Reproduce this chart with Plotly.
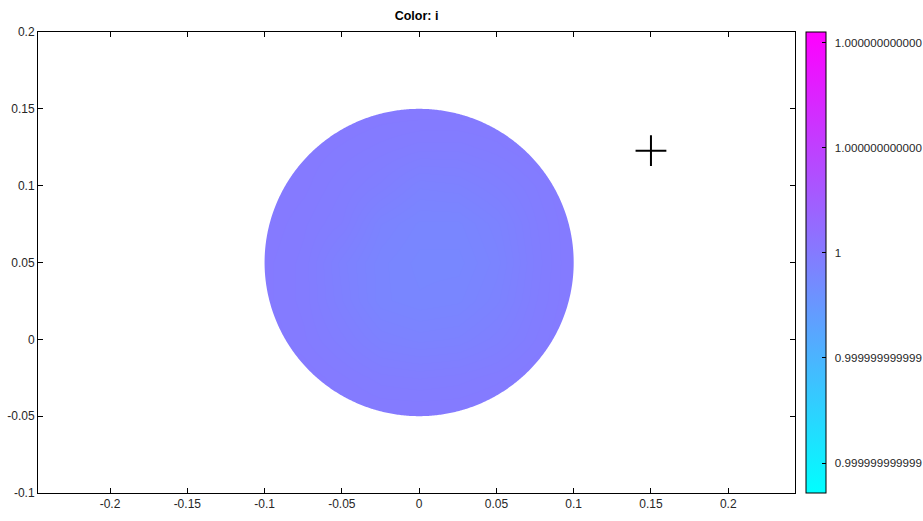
import numpy as np
import plotly.graph_objects as go

# ---- data ----
grid_x = [-0.1, -0.075, -0.05, -0.025, 0.0, 0.025, 0.05, 0.075, 0.1]
grid_y = [-0.05, -0.025, 0.0, 0.025, 0.05, 0.075, 0.1, 0.125, 0.15]
# colour value relative to 1, in units of 1e-13
field = [
    [0.02, 0.02, 0.01, 0.00, 0.00, 0.00, 0.01, 0.02, 0.02],
    [0.02, 0.01, -0.02, -0.05, -0.06, -0.05, -0.03, 0.00, 0.02],
    [0.01, -0.02, -0.07, -0.13, -0.15, -0.14, -0.10, -0.04, 0.01],
    [0.00, -0.03, -0.11, -0.19, -0.21, -0.20, -0.15, -0.06, 0.00],
    [0.00, -0.03, -0.12, -0.19, -0.22, -0.22, -0.17, -0.07, 0.00],
    [0.01, -0.02, -0.06, -0.16, -0.20, -0.20, -0.15, -0.06, 0.00],
    [0.02, 0.00, -0.04, -0.08, -0.14, -0.13, -0.09, -0.04, 0.01],
    [0.02, 0.01, -0.01, -0.03, -0.05, -0.05, -0.03, 0.00, 0.02],
    [0.02, 0.02, 0.02, 0.01, 0.01, 0.01, 0.01, 0.02, 0.02],
]
circle_center = [0.0, 0.05]
circle_radius = 0.1
marker_x = [0.15]
marker_y = [0.1228]
cbar_min, cbar_max = -2.285, 2.10
cbar_tickvals = [-2, -1, 0, 1, 2]
cbar_ticktext = ["0.999999999999", "0.999999999999", "1",
                 "1.000000000000", "1.000000000000"]
x_range = [-0.2466, 0.2432]
y_range = [-0.1, 0.2]
x_ticks = [-0.2, -0.15, -0.1, -0.05, 0, 0.05, 0.1, 0.15, 0.2]
y_ticks = [-0.1, -0.05, 0, 0.05, 0.1, 0.15, 0.2]

cool = [[0, "rgb(0,255,255)"], [1, "rgb(255,0,255)"]]
FONT = "Liberation Sans, Arial, Helvetica, sans-serif"
TXT = "#262626"

fig = go.Figure()

fig.add_trace(go.Heatmap(
    x=grid_x, y=grid_y, z=field, zsmooth="best",
    colorscale=cool, zmin=cbar_min, zmax=cbar_max, zauto=False,
    showscale=True,
    colorbar=dict(
        x=1.0145, xanchor="left", xpad=0, ypad=0,
        y=0.5, yanchor="middle", len=1, lenmode="fraction",
        thickness=20, outlinewidth=1, outlinecolor="black",
        tickmode="array", tickvals=cbar_tickvals,
        ticktext=["\u00a0\u2009" + t for t in cbar_ticktext],
        ticks="inside", ticklen=4, tickcolor="black",
        tickfont=dict(family=FONT, size=11.6, color=TXT),
    ),
    hoverinfo="skip",
))

fig.add_trace(go.Scatter(
    x=marker_x, y=marker_y, mode="markers",
    marker=dict(symbol="cross-thin", size=22, line=dict(width=2, color="black")),
    showlegend=False, hoverinfo="skip",
))

# white mask outside the circle
cx, cy = circle_center
th = np.linspace(0, 2 * np.pi, 721)
px = cx + circle_radius * np.cos(th)
py = cy + circle_radius * np.sin(th)
pad = 0.02
x0, x1 = cx - circle_radius - pad, cx + circle_radius + pad
y0, y1 = cy - circle_radius - pad, cy + circle_radius + pad
path = f"M{x0},{y0} L{x0},{y1} L{x1},{y1} L{x1},{y0} Z "
path += "M" + " L".join(f"{a:.6f},{b:.6f}" for a, b in zip(px, py)) + " Z"
fig.add_shape(type="path", path=path, xref="x", yref="y",
              fillcolor="white", line=dict(width=0), layer="above")

axis_common = dict(showline=True, linecolor="black", linewidth=1, mirror="ticks",
                   ticks="inside", ticklen=5, tickcolor="black", showgrid=False,
                   zeroline=False, automargin=False,
                   tickfont=dict(family=FONT, size=12, color=TXT))
fig.update_xaxes(range=x_range, tickvals=x_ticks,
                 ticktext=[f"{v:g}" for v in x_ticks], **axis_common)
fig.update_yaxes(range=y_range, tickvals=y_ticks,
                 ticktext=[f"{v:g}" for v in y_ticks], **axis_common)

fig.update_layout(
    width=923, height=521,
    margin=dict(l=38, r=128, t=32, b=28, autoexpand=False),
    plot_bgcolor="white", paper_bgcolor="white",
    title=dict(text="<b>Color: i</b>", x=(38 + 795) / 2 / 923, xanchor="center",
               y=1 - 16 / 521, yanchor="middle",
               font=dict(family=FONT, size=12.5, color="black")),
    showlegend=False,
)

fig.write_html("out.html", config={"displayModeBar": False},
               post_script="document.body.style.margin='0';document.body.style.overflow='hidden';")
